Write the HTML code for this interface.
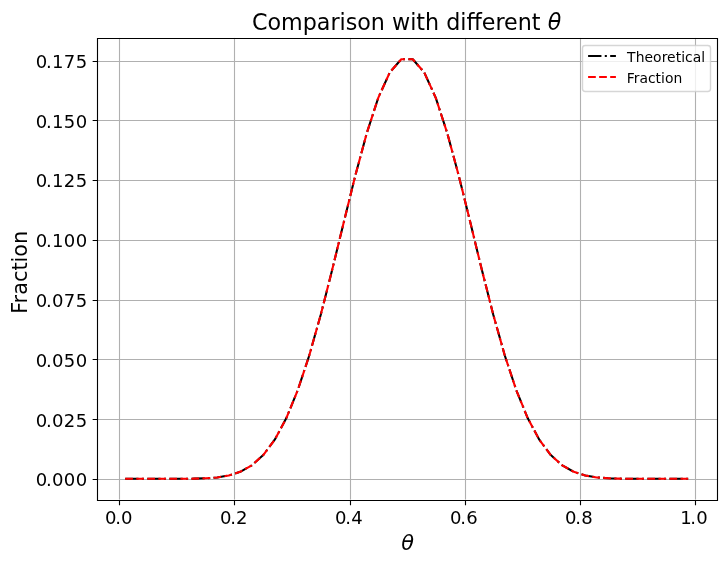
<!DOCTYPE html>
<html><head><meta charset="utf-8"><title>Comparison with different θ</title><style>html,body{margin:0;padding:0;background:#fff;width:727px;height:563px;overflow:hidden}svg{display:block}</style></head><body>
<svg width="727" height="563" viewBox="0 0 727 563">
<defs><clipPath id="ax"><rect x="97.03" y="37.80" width="620.00" height="462.00"/></clipPath></defs>
<rect width="727" height="563" fill="#fff"/>
<path d="M119.5 37.80V499.80M234.5 37.80V499.80M350.5 37.80V499.80M465.5 37.80V499.80M580.5 37.80V499.80M695.5 37.80V499.80M97.03 479.5H717.03M97.03 419.5H717.03M97.03 359.5H717.03M97.03 300.5H717.03M97.03 240.5H717.03M97.03 180.5H717.03M97.03 120.5H717.03M97.03 61.5H717.03" stroke="#b0b0b0" stroke-width="1.111" fill="none" clip-path="url(#ax)"/>
<g clip-path="url(#ax)" fill="none" stroke-width="2.0833" stroke-linejoin="round" stroke-linecap="butt">
<polyline points="125.201,478.800 136.704,478.800 148.207,478.800 159.710,478.799 171.213,478.794 182.715,478.764 194.218,478.649 205.721,478.299 217.224,477.418 228.726,475.507 240.229,471.824 251.732,465.393 263.235,455.078 274.738,439.715 286.240,418.307 297.743,390.238 309.246,355.482 320.749,314.758 332.251,269.599 343.754,222.301 355.257,175.760 366.760,133.200 378.263,97.828 389.765,72.471 401.268,59.231 412.771,59.231 424.274,72.471 435.776,97.828 447.279,133.200 458.782,175.760 470.285,222.301 481.788,269.599 493.290,314.758 504.793,355.482 516.296,390.238 527.799,418.307 539.301,439.715 550.804,455.078 562.307,465.393 573.810,471.824 585.313,475.507 596.815,477.418 608.318,478.299 619.821,478.649 631.324,478.764 642.826,478.794 654.329,478.799 665.832,478.800 677.335,478.800 688.838,478.800" stroke="#000" stroke-dasharray="13.3333,3.3333,2.0833,3.3333"/>
<polyline points="125.201,478.800 136.704,478.800 148.207,478.800 159.710,478.799 171.213,478.794 182.715,478.764 194.218,478.649 205.721,478.299 217.224,477.418 228.726,475.507 240.229,471.824 251.732,465.393 263.235,455.078 274.738,439.715 286.240,418.307 297.743,390.238 309.246,355.482 320.749,314.758 332.251,269.599 343.754,222.301 355.257,175.760 366.760,133.200 378.263,97.828 389.765,72.471 401.268,59.231 412.771,59.231 424.274,72.471 435.776,97.828 447.279,133.200 458.782,175.760 470.285,222.301 481.788,269.599 493.290,314.758 504.793,355.482 516.296,390.238 527.799,418.307 539.301,439.715 550.804,455.078 562.307,465.393 573.810,471.824 585.313,475.507 596.815,477.418 608.318,478.299 619.821,478.649 631.324,478.764 642.826,478.794 654.329,478.799 665.832,478.800 677.335,478.800 688.838,478.800" stroke="#f00" stroke-dasharray="7.7083,3.3333"/>
</g>
<path d="M97.5 38.5H717.5V500.5H97.5Z" fill="none" stroke="#000" stroke-width="1.111" stroke-linejoin="miter" stroke-linecap="square"/>
<path d="M119.5 500.5v4.861M234.5 500.5v4.861M350.5 500.5v4.861M465.5 500.5v4.861M580.5 500.5v4.861M695.5 500.5v4.861M97.5 479.5h-4.861M97.5 419.5h-4.861M97.5 359.5h-4.861M97.5 300.5h-4.861M97.5 240.5h-4.861M97.5 180.5h-4.861M97.5 120.5h-4.861M97.5 61.5h-4.861" stroke="#000" stroke-width="1.111" fill="none"/>
<text x="35.810" y="486.300" dx="0.00 -1.25 0.10 0.40 0.40" style="font-family:'DejaVu Sans',sans-serif;font-size:18.056px">0.000</text>
<text x="35.810" y="426.600" dx="0.00 -1.25 0.10 0.40 0.40" style="font-family:'DejaVu Sans',sans-serif;font-size:18.056px">0.025</text>
<text x="35.810" y="366.800" dx="0.00 -1.25 0.10 0.40 0.40" style="font-family:'DejaVu Sans',sans-serif;font-size:18.056px">0.050</text>
<text x="35.810" y="307.100" dx="0.00 -1.25 0.10 0.40 0.40" style="font-family:'DejaVu Sans',sans-serif;font-size:18.056px">0.075</text>
<text x="35.810" y="247.400" dx="0.00 -1.25 0.10 0.40 0.40" style="font-family:'DejaVu Sans',sans-serif;font-size:18.056px">0.100</text>
<text x="35.810" y="187.200" dx="0.00 -1.25 0.10 0.40 0.40" style="font-family:'DejaVu Sans',sans-serif;font-size:18.056px">0.125</text>
<text x="35.810" y="127.500" dx="0.00 -1.25 0.10 0.40 0.40" style="font-family:'DejaVu Sans',sans-serif;font-size:18.056px">0.150</text>
<text x="35.810" y="68.200" dx="0.00 -1.25 0.10 0.40 0.40" style="font-family:'DejaVu Sans',sans-serif;font-size:18.056px">0.175</text>
<text x="105.000" y="523.800" dx="0.00 -1.25 0.10" style="font-family:'DejaVu Sans',sans-serif;font-size:18.056px">0.0</text>
<text x="220.028" y="523.800" dx="0.00 -1.25 0.10" style="font-family:'DejaVu Sans',sans-serif;font-size:18.056px">0.2</text>
<text x="335.056" y="523.800" dx="0.00 -1.25 0.10" style="font-family:'DejaVu Sans',sans-serif;font-size:18.056px">0.4</text>
<text x="450.083" y="523.800" dx="0.00 -1.25 0.10" style="font-family:'DejaVu Sans',sans-serif;font-size:18.056px">0.6</text>
<text x="565.111" y="523.800" dx="0.00 -1.25 0.10" style="font-family:'DejaVu Sans',sans-serif;font-size:18.056px">0.8</text>
<text x="680.139" y="523.800" dx="0.00 -1.25 0.10" style="font-family:'DejaVu Sans',sans-serif;font-size:18.056px">1.0</text>
<text x="407.500" y="549.750" style="font-family:'DejaVu Sans',sans-serif;font-size:20.833px;font-style:oblique" text-anchor="middle" >θ</text>
<text transform="translate(26.500 272.300) rotate(-90)" style="font-family:'DejaVu Sans',sans-serif;font-size:20.833px" text-anchor="middle">Fraction</text>
<text x="406.600" y="29.500" style="font-family:'DejaVu Sans',sans-serif;font-size:22.222px" text-anchor="middle" >Comparison with different <tspan style="font-style:oblique">θ</tspan></text>
<rect x="582.500" y="45.500" width="128.000" height="46.000" rx="2.778" ry="2.778" fill="#fff" fill-opacity="0.8" stroke="#ccc" stroke-opacity="0.8" stroke-width="1.3889"/>
<path d="M588.100 56.000H615.900" stroke="#000" stroke-width="2.0833" stroke-dasharray="13.3333,3.3333,2.0833,3.3333" fill="none"/>
<path d="M588.100 77.000H615.900" stroke="#f00" stroke-width="2.0833" stroke-dasharray="7.7083,3.3333" fill="none"/>
<text x="627.100" y="61.900" style="font-family:'DejaVu Sans',sans-serif;font-size:13.889px;letter-spacing:0.06px" text-anchor="start" >Theoretical</text>
<text x="626.800" y="82.900" style="font-family:'DejaVu Sans',sans-serif;font-size:13.889px;" text-anchor="start" >Fraction</text>
</svg>
</body></html>
